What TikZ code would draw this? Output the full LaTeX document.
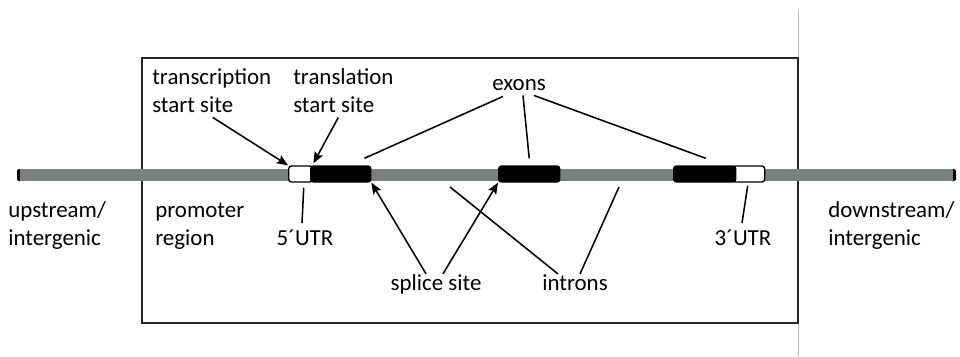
\documentclass[tikz,border=0pt]{standalone}
\usepackage{fontspec}
\setmainfont{Carlito}
\usepackage{xcolor}
\usetikzlibrary{arrows.meta,calc}

\definecolor{chromgray}{RGB}{120,128,128}

\begin{document}
\begin{tikzpicture}[x=0.025cm, y=-0.025cm,
    lbl/.style={inner sep=0pt, align=left, font=\fontsize{16.3}{19.9}\selectfont},
    exonbox/.style={draw, fill=black, rounded corners=2pt, line width=1pt,
                    minimum height=0.4cm, inner sep=0pt},
    utrbox/.style={draw, fill=white, rounded corners=2pt, line width=1pt,
                   minimum height=0.4cm, inner sep=0pt},
    pointer/.style={-{Stealth[length=8pt, width=6.5pt, inset=1.5pt]}, line width=1.1pt},
    leader/.style={line width=1.1pt}
]
    \useasboundingbox (0,0) rectangle (960,356);

    % frame around the gene
    \draw[black!25, line width=0.6pt] (798,10) -- (798,356);
    \draw[black!85, line width=1.1pt] (142,58) rectangle (798,323);

    % chromosome strand
    \fill[black, rounded corners=1.5pt] (17,169) rectangle (23,181);
    \fill[black, rounded corners=1.5pt] (950,169) rectangle (956,181);
    \fill[chromgray] (20,169) rectangle (953,181);

    % exons and UTRs
    \node[utrbox, minimum width=0.6cm, anchor=west] (utr5) at (288,174) {};
    \node[exonbox, minimum width=1.5cm, anchor=west] (ex1) at (310,174) {};
    \node[exonbox, minimum width=1.525cm, anchor=west] (ex2) at (498,174) {};
    \node[utrbox, minimum width=0.8cm, anchor=west] (utr3) at (732,174) {};
    \node[exonbox, minimum width=1.55cm, anchor=west] (ex3) at (673,174) {};
    \coordinate (intr1) at (450,187);
    \coordinate (intr2) at (619,187);

    % labels
    \node[lbl, anchor=base west] (up) at (8,245) {upstream/\\intergenic};
    \node[lbl, anchor=base west] (prom) at (155,245) {promoter\\region};
    \node[lbl, anchor=base west] (down) at (828,245) {downstream/\\intergenic};
    \node[lbl, anchor=base west] (tss) at (152,112) {transcription\\start site};
    \node[lbl, anchor=base west] (tls) at (293,112) {translation\\start site};
    \node[lbl, anchor=base] (exons) at (519,90) {exons};
    \node[lbl, anchor=base] (utr5lbl) at (305,245) {5\textasciiacute UTR};
    \node[lbl, anchor=base] (utr3lbl) at (743,245) {3\textasciiacute UTR};
    \node[lbl, anchor=base] (splice) at (436,290) {splice site};
    \node[lbl, anchor=base] (introns) at (575,290) {introns};

    % start sites
    \draw[pointer] ($(tss.south)+(1,5)$) -- (utr5.north west);
    \draw[pointer] ($(tls.south)+(-5,5)$) -- ($(utr5.north east)+(0,-2)$);

    % exons
    \draw[leader] ($(exons.south)+(-16,6)$) -- ($(ex1.north east)+(-7,-7)$);
    \draw[leader] ($(exons.south)+(4,5)$) -- ($(ex2.north)+(0,-7)$);
    \draw[leader] ($(exons.south)+(15,5)$) -- ($(ex3.north)+(1,-7)$);

    % UTRs
    \draw[leader] ($(utr5lbl.north)+(-3,-6)$) -- ($(utr5.south)+(3,5)$);
    \draw[leader] ($(utr3lbl.north)+(-1,-6)$) -- ($(utr3.south)+(-1,3)$);

    % splice sites
    \draw[pointer] ($(splice.north)+(-10,0)$) -- (ex1.south east);
    \draw[pointer] ($(splice.north)+(7,0)$) -- (ex2.south west);

    % introns
    \draw[leader] ($(introns.north)+(-17,0)$) -- (intr1);
    \draw[leader] ($(introns.north)+(5,0)$) -- (intr2);
\end{tikzpicture}
\end{document}
